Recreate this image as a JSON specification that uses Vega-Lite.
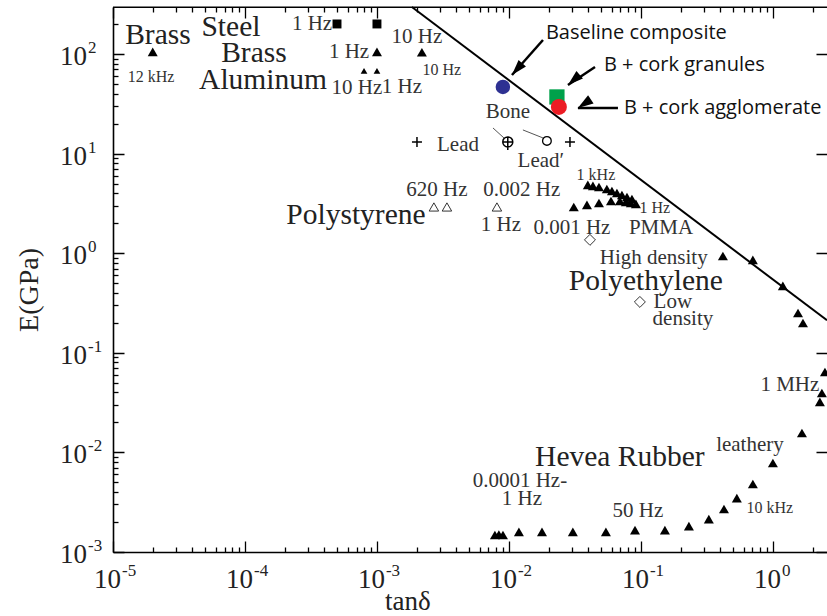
{
  "$schema": "https://vega.github.io/schema/vega-lite/v6.json",
  "width": 714,
  "height": 545,
  "autosize": {"type": "none"},
  "padding": {"left": 113, "top": 7, "right": 0, "bottom": 64},
  "background": "white",
  "config": {"view": {"stroke": null}, "font": "Liberation Serif"},
  "datasets": {
    "frame": [{"x": 1e-5, "x2": 2.57, "y": 294}],
    "line": [{"x": 0.00184, "y": 296}, {"x": 2.57, "y": 0.212}],
    "xlabels": [
      {"x": 1e-5, "y": 0.001, "e": "-5"}, {"x": 1e-4, "y": 0.001, "e": "-4"}, {"x": 1e-3, "y": 0.001, "e": "-3"},
      {"x": 1e-2, "y": 0.001, "e": "-2"}, {"x": 1e-1, "y": 0.001, "e": "-1"}, {"x": 1, "y": 0.001, "e": "0"}
    ],
    "ylabels": [
      {"x": 1e-5, "y": 1e-3, "e": "-3"}, {"x": 1e-5, "y": 1e-2, "e": "-2"}, {"x": 1e-5, "y": 1e-1, "e": "-1"},
      {"x": 1e-5, "y": 1, "e": "0"}, {"x": 1e-5, "y": 10, "e": "1"}, {"x": 1e-5, "y": 100, "e": "2"}
    ],
    "xtitle": [{"x": 0.001718, "y": 0.001, "t": "tanδ"}],
    "ytitle": [{"x": 1e-5, "y": 0.427, "t": "E(GPa)"}],
    "tri": [
      {"x": 2.0e-5, "y": 105}, {"x": 0.001, "y": 105}, {"x": 0.00219, "y": 104},
      {"x": 0.0396, "y": 4.84}, {"x": 0.0433, "y": 4.73}, {"x": 0.0481, "y": 4.62}, {"x": 0.0552, "y": 4.41}, {"x": 0.0603, "y": 4.21}, {"x": 0.0658, "y": 4.02}, {"x": 0.0718, "y": 3.84}, {"x": 0.0784, "y": 3.66}, {"x": 0.0855, "y": 3.5},
      {"x": 0.031, "y": 2.91}, {"x": 0.039, "y": 3.05}, {"x": 0.0481, "y": 3.19}, {"x": 0.0593, "y": 3.34}, {"x": 0.0693, "y": 3.34}, {"x": 0.0769, "y": 3.27}, {"x": 0.0839, "y": 3.19}, {"x": 0.0916, "y": 3.12},
      {"x": 0.418, "y": 0.937}, {"x": 0.705, "y": 0.855}, {"x": 1.19, "y": 0.469}, {"x": 1.55, "y": 0.251}, {"x": 1.69, "y": 0.199},
      {"x": 2.48, "y": 0.0641}, {"x": 2.35, "y": 0.0395}, {"x": 2.27, "y": 0.0321}, {"x": 1.66, "y": 0.01567}, {"x": 1.0, "y": 0.00783}, {"x": 0.705, "y": 0.00482}, {"x": 0.533, "y": 0.00348}, {"x": 0.426, "y": 0.0027}, {"x": 0.327, "y": 0.00214},
      {"x": 0.00783, "y": 0.00148}, {"x": 0.00839, "y": 0.0015}, {"x": 0.00901, "y": 0.00148}, {"x": 0.0119, "y": 0.00159}, {"x": 0.0178, "y": 0.00159}, {"x": 0.0305, "y": 0.00159}, {"x": 0.0543, "y": 0.00159}, {"x": 0.0902, "y": 0.00166}, {"x": 0.152, "y": 0.00166}, {"x": 0.231, "y": 0.00182}
    ],
    "tri_small": [{"x": 0.000798, "y": 67.5}, {"x": 0.001, "y": 67.5}],
    "sq": [{"x": 0.000498, "y": 200}, {"x": 0.001, "y": 200}],
    "tri_open": [{"x": 0.0027, "y": 2.91}, {"x": 0.00339, "y": 2.91}, {"x": 0.00811, "y": 2.91}],
    "diamond": [{"x": 0.0411, "y": 1.36}, {"x": 0.0982, "y": 0.324}],
    "plus": [{"x": 0.00201, "y": 13.1}, {"x": 0.029, "y": 13.1}],
    "bone": [{"x": 0.0098, "y": 13.1}],
    "opencircle": [{"x": 0.0194, "y": 13.4}],
    "leaders": [
      {"x": 0.00757, "y": 18.07, "x2": 0.00916, "y2": 14.35},
      {"x": 0.01276, "y": 17.26, "x2": 0.01811, "y2": 14.35}
    ],
    "colored": [
      {"name": "Baseline composite", "x": 0.009, "y": 46.7},
      {"name": "B + cork granules", "x": 0.0231, "y": 37.0},
      {"name": "B + cork agglomerate", "x": 0.0239, "y": 29.4}
    ],
    "arrows": [
      {"label": "Baseline composite", "x": 0.01054, "y": 61.5, "x2": 0.01811, "y2": 138},
      {"label": "B + cork granules", "x": 0.028, "y": 48.8, "x2": 0.0449, "y2": 74},
      {"label": "B + cork agglomerate", "x": 0.0333, "y": 28.7, "x2": 0.067, "y2": 28.7}
    ],
    "arrow_text": [
      {"t": "Baseline composite", "x": 0.01905, "y": 162.5},
      {"t": "B + cork granules", "x": 0.0525, "y": 77.6},
      {"t": "B + cork agglomerate", "x": 0.0743, "y": 28.7}
    ],
    "labels_big": [
      {"t": "Brass", "x": 2.19e-5, "y": 155},
      {"t": "Steel", "x": 7.83e-5, "y": 186.7},
      {"t": "Brass", "x": 0.000117, "y": 102.3},
      {"t": "Aluminum", "x": 0.000137, "y": 54.8},
      {"t": "Polystyrene", "x": 0.000693, "y": 2.42},
      {"t": "Polyethylene", "x": 0.109, "y": 0.53},
      {"t": "Hevea Rubber", "x": 0.0693, "y": 0.009}
    ],
    "labels_mid": [
      {"t": "Bone", "x": 0.00982, "y": 26.2},
      {"t": "Lead", "x": 0.00411, "y": 12.2},
      {"t": "Lead′", "x": 0.01746, "y": 8.43},
      {"t": "620 Hz", "x": 0.00285, "y": 4.31},
      {"t": "0.002 Hz", "x": 0.01253, "y": 4.31},
      {"t": "1 Hz", "x": 0.00869, "y": 1.92},
      {"t": "0.001 Hz", "x": 0.03, "y": 1.79},
      {"t": "PMMA", "x": 0.142, "y": 1.79},
      {"t": "High density", "x": 0.125, "y": 0.895},
      {"t": "Low", "x": 0.1746, "y": 0.3236},
      {"t": "density", "x": 0.208, "y": 0.2185},
      {"t": "1 MHz", "x": 1.345, "y": 0.0475},
      {"t": "leathery", "x": 0.67, "y": 0.01187},
      {"t": "0.0001 Hz-", "x": 0.01211, "y": 0.00516},
      {"t": "1 Hz", "x": 0.01253, "y": 0.0034},
      {"t": "50 Hz", "x": 0.0948, "y": 0.00258},
      {"t": "10 Hz", "x": 0.00201, "y": 148},
      {"t": "1 Hz", "x": 0.000614, "y": 104.7},
      {"t": "10 Hz", "x": 0.000705, "y": 45.6},
      {"t": "1 Hz", "x": 0.001545, "y": 46.7},
      {"t": "1 Hz", "x": 0.000322, "y": 200}
    ],
    "labels_small": [
      {"t": "12 kHz", "x": 1.94e-5, "y": 58.8},
      {"t": "10 Hz", "x": 0.0031, "y": 69},
      {"t": "1 kHz", "x": 0.0456, "y": 6.09},
      {"t": "1 Hz", "x": 0.1276, "y": 2.84},
      {"t": "10 kHz", "x": 0.948, "y": 0.00277}
    ]
  },
  "encoding": {
    "x": {
      "field": "x", "type": "quantitative",
      "scale": {"type": "log", "domain": [1e-5, 2.57], "nice": false},
      "axis": {
        "orient": "bottom", "title": null, "labels": false, "ticks": false,
        "values": [1e-5, 2e-5, 3e-5, 4e-5, 5e-5, 6e-5, 7e-5, 8e-5, 9e-5, 1e-4, 2e-4, 3e-4, 4e-4, 5e-4, 6e-4, 7e-4, 8e-4, 9e-4, 0.001, 0.002, 0.003, 0.004, 0.005, 0.006, 0.007, 0.008, 0.009, 0.01, 0.02, 0.03, 0.04, 0.05, 0.06, 0.07, 0.08, 0.09, 0.1, 0.2, 0.3, 0.4, 0.5, 0.6, 0.7, 0.8, 0.9, 1, 2],
        "grid": true, "gridColor": "black", "gridWidth": 1.3,
        "gridDash": {"condition": {"test": "abs(log(datum.value)/LN10 - round(log(datum.value)/LN10)) < 0.001", "value": [11, 523, 11, 3000]}, "value": [5, 535, 5, 3000]},
        "domainColor": "black", "domainWidth": 1.6
      }
    },
    "y": {
      "field": "y", "type": "quantitative",
      "scale": {"type": "log", "domain": [0.001, 296], "nice": false},
      "axis": {
        "orient": "left", "title": null, "labels": false, "ticks": false,
        "values": [0.001, 0.002, 0.003, 0.004, 0.005, 0.006, 0.007, 0.008, 0.009, 0.01, 0.02, 0.03, 0.04, 0.05, 0.06, 0.07, 0.08, 0.09, 0.1, 0.2, 0.3, 0.4, 0.5, 0.6, 0.7, 0.8, 0.9, 1, 2, 3, 4, 5, 6, 7, 8, 9, 10, 20, 30, 40, 50, 60, 70, 80, 90, 100, 200],
        "grid": true, "gridColor": "black", "gridWidth": 1.3,
        "gridDash": {"condition": {"test": "abs(log(datum.value)/LN10 - round(log(datum.value)/LN10)) < 0.001", "value": [11, 692, 11, 3000]}, "value": [5, 3000]},
        "domainColor": "black", "domainWidth": 1.6
      }
    }
  },
  "layer": [
    {"data": {"name": "frame"}, "mark": {"type": "rule", "color": "black", "strokeWidth": 1.6},
     "encoding": {"x2": {"field": "x2"}}},
    {"data": {"name": "line"}, "mark": {"type": "line", "color": "black", "strokeWidth": 2}},
    {"data": {"name": "xlabels"}, "mark": {"type": "text", "font": "Liberation Serif", "fontSize": 27, "color": "#222", "align": "right", "baseline": "alphabetic", "dx": 8, "dy": 36},
     "encoding": {"text": {"value": "10"}}},
    {"data": {"name": "xlabels"}, "mark": {"type": "text", "font": "Liberation Serif", "fontSize": 17, "color": "#222", "align": "left", "baseline": "alphabetic", "dx": 9, "dy": 24},
     "encoding": {"text": {"field": "e"}}},
    {"data": {"name": "ylabels"}, "mark": {"type": "text", "font": "Liberation Serif", "fontSize": 27, "color": "#222", "align": "right", "baseline": "middle", "dx": -26, "dy": 3},
     "encoding": {"text": {"value": "10"}}},
    {"data": {"name": "ylabels"}, "mark": {"type": "text", "font": "Liberation Serif", "fontSize": 17, "color": "#222", "align": "left", "baseline": "middle", "dx": -25, "dy": -6},
     "encoding": {"text": {"field": "e"}}},
    {"data": {"name": "xtitle"}, "mark": {"type": "text", "font": "Liberation Serif", "fontSize": 27, "color": "#222", "align": "center", "baseline": "alphabetic", "dy": 58},
     "encoding": {"text": {"field": "t"}}},
    {"data": {"name": "ytitle"}, "mark": {"type": "text", "font": "Liberation Serif", "fontSize": 28, "color": "#222", "align": "center", "baseline": "middle", "angle": 270, "dy": -83},
     "encoding": {"text": {"field": "t"}}},
    {"data": {"name": "leaders"}, "mark": {"type": "rule", "color": "#555", "strokeWidth": 1},
     "encoding": {"x2": {"field": "x2"}, "y2": {"field": "y2"}}},
    {"data": {"name": "tri"}, "mark": {"type": "point", "shape": "triangle-up", "filled": true, "color": "black", "opacity": 1, "size": 100}},
    {"data": {"name": "tri_small"}, "mark": {"type": "point", "shape": "triangle-up", "filled": true, "color": "black", "opacity": 1, "size": 45}},
    {"data": {"name": "sq"}, "mark": {"type": "point", "shape": "square", "filled": true, "color": "black", "opacity": 1, "size": 80}},
    {"data": {"name": "tri_open"}, "mark": {"type": "point", "shape": "triangle-up", "filled": false, "color": "#333", "opacity": 1, "size": 90, "strokeWidth": 1}},
    {"data": {"name": "diamond"}, "mark": {"type": "point", "shape": "diamond", "filled": false, "color": "#333", "opacity": 1, "size": 120, "strokeWidth": 1}},
    {"data": {"name": "plus"}, "mark": {"type": "point", "shape": "M-1,0H1M0,-1V1", "filled": false, "color": "black", "opacity": 1, "size": 100, "strokeWidth": 1.5}},
    {"data": {"name": "bone"}, "mark": {"type": "point", "shape": "M-1,0A1,1,0,1,1,1,0A1,1,0,1,1,-1,0ZM-1,0H1M0,-1V1.6", "filled": false, "color": "black", "opacity": 1, "size": 100, "strokeWidth": 1.5}},
    {"data": {"name": "opencircle"}, "mark": {"type": "point", "shape": "circle", "filled": false, "color": "black", "opacity": 1, "size": 75, "strokeWidth": 1.3}},
    {"data": {"name": "colored"}, "mark": {"type": "point", "filled": true, "opacity": 1},
     "encoding": {
       "color": {"field": "name", "type": "nominal", "scale": {"domain": ["Baseline composite", "B + cork granules", "B + cork agglomerate"], "range": ["#2e3192", "#00a14b", "#ec1c24"]}, "legend": null},
       "shape": {"field": "name", "type": "nominal", "scale": {"domain": ["Baseline composite", "B + cork granules", "B + cork agglomerate"], "range": ["circle", "square", "circle"]}, "legend": null},
       "size": {"field": "name", "type": "nominal", "scale": {"domain": ["Baseline composite", "B + cork granules", "B + cork agglomerate"], "range": [210, 256, 210]}, "legend": null}
     }},
    {"data": {"name": "arrows"}, "mark": {"type": "rule", "color": "black", "strokeWidth": 2.5},
     "encoding": {"x2": {"field": "x2"}, "y2": {"field": "y2"}}},
    {"data": {"name": "arrows"}, "mark": {"type": "point", "shape": "M0,0L0.7,2.2L-0.7,2.2Z", "filled": true, "color": "black", "opacity": 1, "size": 200},
     "encoding": {"angle": {"field": "label", "type": "nominal", "scale": {"domain": ["Baseline composite", "B + cork granules", "B + cork agglomerate"], "range": [221.5, 236.3, 270]}, "legend": null}}},
    {"data": {"name": "arrow_text"}, "mark": {"type": "text", "font": "Open Sans", "fontSize": 20, "color": "#111", "align": "left", "baseline": "middle"},
     "encoding": {"text": {"field": "t"}}},
    {"data": {"name": "labels_big"}, "mark": {"type": "text", "font": "Liberation Serif", "fontSize": 29.5, "color": "#222", "align": "center", "baseline": "middle"},
     "encoding": {"text": {"field": "t"}}},
    {"data": {"name": "labels_mid"}, "mark": {"type": "text", "font": "Liberation Serif", "fontSize": 21, "color": "#333", "align": "center", "baseline": "middle"},
     "encoding": {"text": {"field": "t"}}},
    {"data": {"name": "labels_small"}, "mark": {"type": "text", "font": "Liberation Serif", "fontSize": 16, "color": "#333", "align": "center", "baseline": "middle"},
     "encoding": {"text": {"field": "t"}}}
  ]
}
